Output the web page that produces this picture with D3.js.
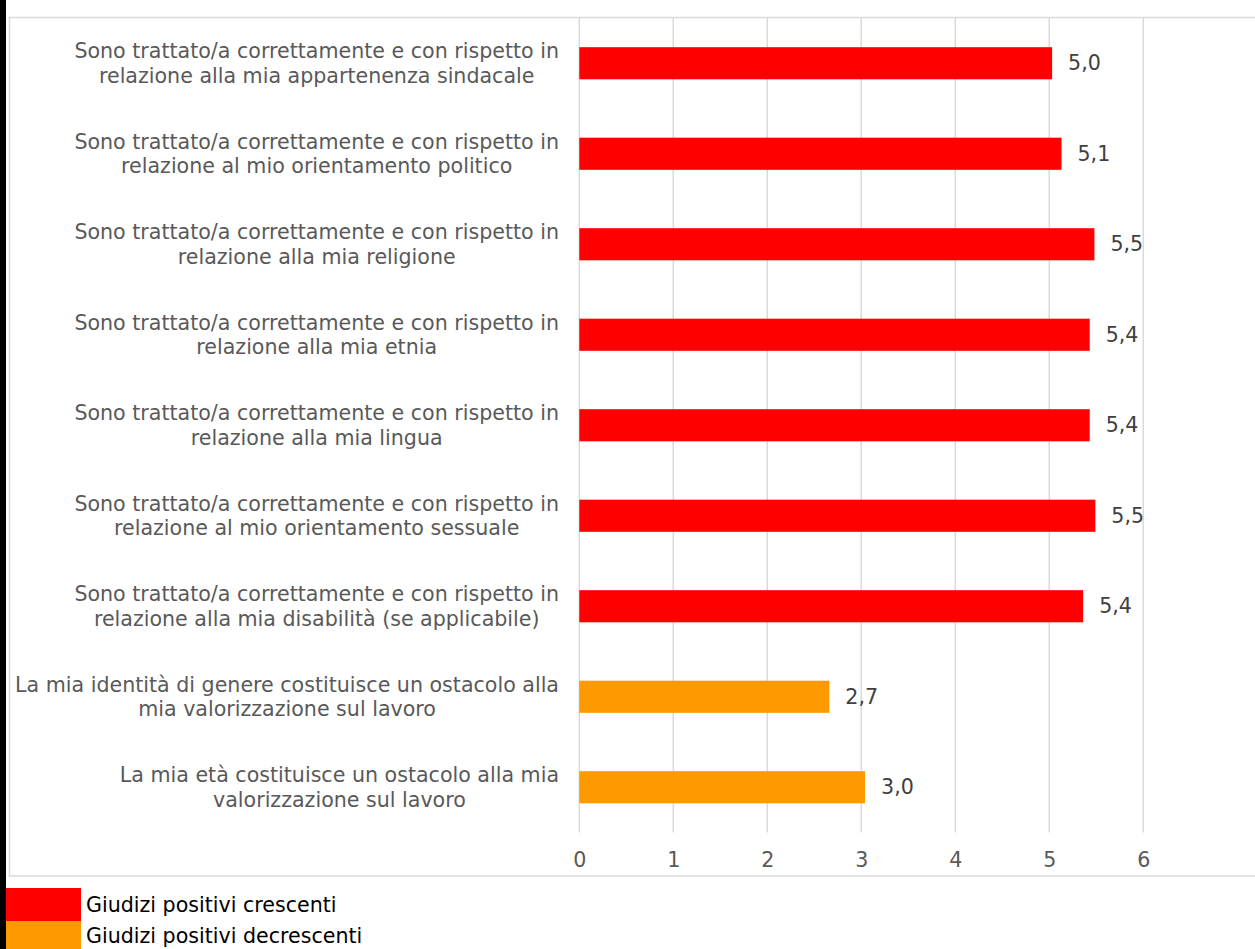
<!DOCTYPE html>
<html><head><meta charset="utf-8">
<script src="https://cdn.jsdelivr.net/npm/d3@7"></script>
<style>body{margin:0;background:#fff;overflow:hidden}svg{display:block}</style>
</head><body>
<svg id="c" width="1255" height="949"></svg>
<script>
const categories = [
  ["Sono trattato/a correttamente e con rispetto in","relazione alla mia appartenenza sindacale"],
  ["Sono trattato/a correttamente e con rispetto in","relazione al mio orientamento politico"],
  ["Sono trattato/a correttamente e con rispetto in","relazione alla mia religione"],
  ["Sono trattato/a correttamente e con rispetto in","relazione alla mia etnia"],
  ["Sono trattato/a correttamente e con rispetto in","relazione alla mia lingua"],
  ["Sono trattato/a correttamente e con rispetto in","relazione al mio orientamento sessuale"],
  ["Sono trattato/a correttamente e con rispetto in","relazione alla mia disabilità (se applicabile)"],
  ["La mia identità di genere costituisce un ostacolo alla","mia valorizzazione sul lavoro"],
  ["La mia età costituisce un ostacolo alla mia","valorizzazione sul lavoro"]
];
const values = [5.03, 5.13, 5.48, 5.43, 5.43, 5.49, 5.36, 2.66, 3.04];
const groups = ["crescenti","crescenti","crescenti","crescenti","crescenti","crescenti","crescenti","decrescenti","decrescenti"];
const seriesNames = ["Giudizi positivi crescenti","Giudizi positivi decrescenti"];
const seriesKeys = ["crescenti","decrescenti"];
const seriesColors = ["#ff0000","#ff9900"];
const tickValues = [0,1,2,3,4,5,6];

const FONT = "Verdana, 'DejaVu Sans', sans-serif";
const FS = 20.6;
const svg = d3.select("#c");
const color = d3.scaleOrdinal().domain(seriesKeys).range(seriesColors);

// frame
svg.append("rect").attr("x",0).attr("y",0).attr("width",6).attr("height",949).attr("fill","#000");
svg.append("rect").attr("x",9.5).attr("y",17.5).attr("width",1260).attr("height",858.5)
  .attr("fill","none").attr("stroke","#d9d9d9").attr("stroke-width",1.5);

const x = d3.scaleLinear().domain([0,6]).range([579.3,1143.3]);
const y = d3.scaleBand().domain(d3.range(categories.length)).range([18,832.5]).paddingInner(0.645).paddingOuter(0.3225);

// gridlines
svg.append("g").selectAll("line").data(tickValues).join("line")
  .attr("x1",d=>x(d)).attr("x2",d=>x(d)).attr("y1",18).attr("y2",832.5)
  .attr("stroke","#d9d9d9").attr("stroke-width",1.5);

// x axis labels
const xa = svg.append("g").attr("transform","translate(0,860)")
  .call(d3.axisBottom(x).tickValues(tickValues).tickFormat(d3.format("d")).tickSize(0).tickPadding(0));
xa.select(".domain").remove();
xa.selectAll("text").attr("font-family",FONT).attr("font-size",FS).attr("fill","#595959")
  .attr("dy","0.35em").attr("y",0);

// bars
svg.append("g").selectAll("rect").data(values).join("rect")
  .attr("x",x(0)).attr("y",(d,i)=>y(i)).attr("width",d=>x(d)-x(0)).attr("height",y.bandwidth())
  .attr("fill",(d,i)=>color(groups[i]));

// value labels
svg.append("g").selectAll("text").data(values).join("text")
  .attr("x",d=>x(d)+16).attr("y",(d,i)=>y(i)+y.bandwidth()/2).attr("dy","0.35em")
  .attr("font-family",FONT).attr("font-size",FS).attr("fill","#404040")
  .text(d=>d.toFixed(1).replace(".",","));

// category labels
const RIGHT = 559;
const cg = svg.append("g");
categories.forEach((lines,i)=>{
  const cy = y(i)+y.bandwidth()/2;
  const t = cg.append("text").attr("font-family",FONT).attr("font-size",FS).attr("fill","#595959")
    .attr("text-anchor","middle");
  lines.forEach((l,j)=>{
    t.append("tspan").attr("y",cy+(j-(lines.length-1)/2)*24.5).attr("dy","0.35em").text(l);
  });
  let w = 0;
  t.selectAll("tspan").each(function(){ w = Math.max(w,this.getComputedTextLength()); });
  t.selectAll("tspan").attr("x",RIGHT-w/2);
});

// legend
const lg = svg.append("g").selectAll("g").data(seriesNames).join("g")
  .attr("transform",(d,i)=>`translate(6,${888+i*33})`);
lg.append("rect").attr("width",75).attr("height",33).attr("fill",(d,i)=>seriesColors[i]);
lg.append("text").attr("x",80).attr("y",(d,i)=>i===0?17:15).attr("dy","0.35em")
  .attr("font-family",FONT).attr("font-size",FS).attr("fill","#000").text(d=>d);
</script>
</body></html>
